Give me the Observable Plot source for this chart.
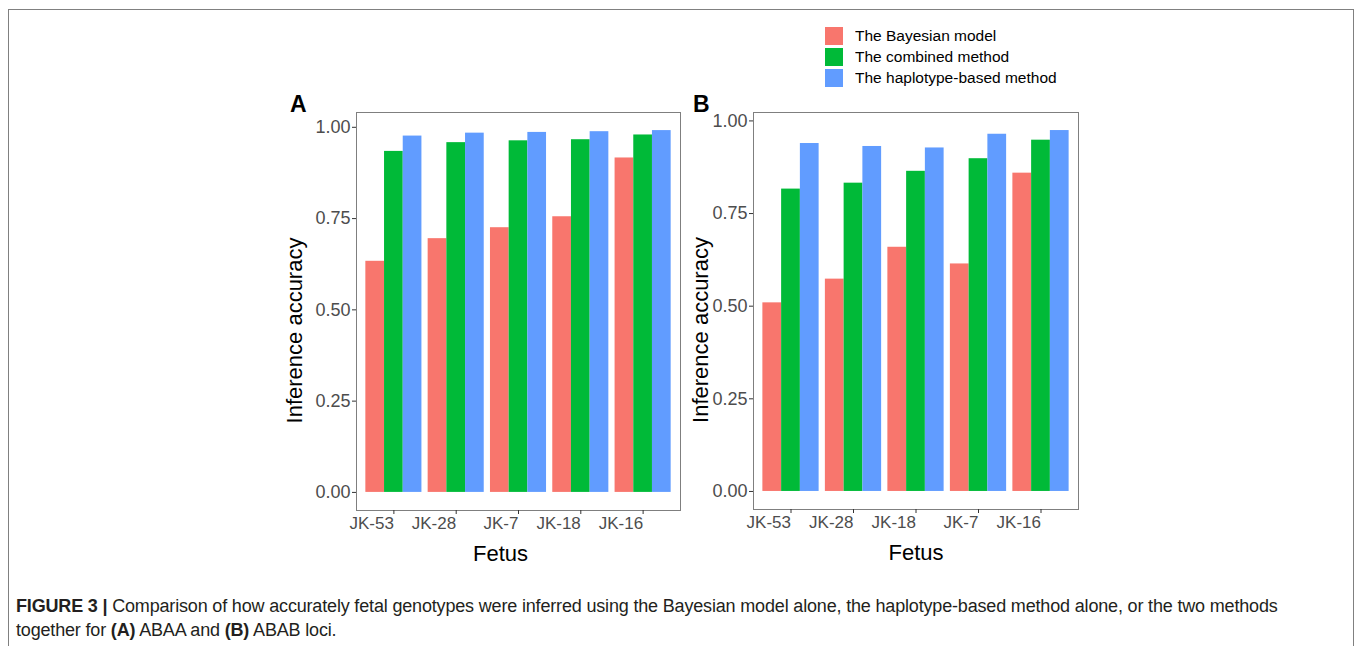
<!DOCTYPE html>
<html>
<head>
<meta charset="utf-8">
<script src="https://cdn.jsdelivr.net/npm/d3@7"></script>
<script src="https://cdn.jsdelivr.net/npm/@observablehq/plot@0.6"></script>
<style>
body{margin:0;background:#fff;}
#fig{position:relative;width:1356px;height:646px;overflow:hidden;font-family:"Liberation Sans",Arial,sans-serif;background:#fff;}
#border{position:absolute;left:8px;top:9px;width:1344px;height:700px;border:1px solid #808080;}
.panel{position:absolute;top:90px;}
#panelA{left:270px;}
#panelB{left:667px;}
.tag{position:absolute;font-weight:bold;font-size:23px;line-height:23px;color:#000;}
#legend{position:absolute;left:825px;top:27px;}
#legend svg{margin-right:12px !important;}
#legend > div > div{padding-bottom:3px !important;}
#caption{position:absolute;left:16px;top:594px;font-size:18px;letter-spacing:-0.17px;line-height:24px;color:#231f20;width:1336px;white-space:nowrap;}
</style>
</head>
<body>
<div id="fig">
  <div id="border"></div>
  <div id="panelA" class="panel"></div>
  <div id="panelB" class="panel"></div>
  <div class="tag" style="left:290px;top:93px;">A</div>
  <div class="tag" style="left:693px;top:93px;">B</div>
  <div id="legend"></div>
  <div id="caption"><b>FIGURE 3 |</b> Comparison of how accurately fetal genotypes were inferred using the Bayesian model alone, the haplotype-based method alone, or the two methods<br>together for <b>(A)</b> ABAA and <b>(B)</b> ABAB loci.</div>
</div>
<script>
// Panel A (ABAA loci)
const fetusA = ["JK-53", "JK-28", "JK-7", "JK-18", "JK-16"];
const bayesA = [0.633, 0.695, 0.725, 0.755, 0.916];
const combinedA = [0.934, 0.958, 0.963, 0.966, 0.979];
const haploA = [0.976, 0.984, 0.986, 0.988, 0.991];
// Panel B (ABAB loci)
const fetusB = ["JK-53", "JK-28", "JK-18", "JK-7", "JK-16"];
const bayesB = [0.509, 0.573, 0.659, 0.614, 0.859];
const combinedB = [0.816, 0.832, 0.864, 0.898, 0.948];
const haploB = [0.939, 0.931, 0.927, 0.964, 0.974];

const methods = ["The Bayesian model", "The combined method", "The haplotype-based method"];
const colors = ["#F8766D", "#00BA38", "#619CFF"];
const yTicks = [0, 0.25, 0.5, 0.75, 1];

// dodge positions like ggplot2's position_dodge(width = 0.9)
function rows(fetus, series) {
  const out = [];
  const w = 0.9 / series.length;
  fetus.forEach((f, i) => series.forEach((vals, m) => {
    const x1 = (i + 1) - 0.45 + m * w;
    out.push({fetus: f, method: methods[m], value: vals[i], x1, x2: x1 + w});
  }));
  return out;
}

function panel(fetus, series, o) {
  const data = rows(fetus, series);
  const ymax = d3.max(data, d => d.value);
  return Plot.plot({
    width: o.width, height: 480,
    marginLeft: 86, marginRight: 10, marginTop: 22, marginBottom: o.mb,
    style: {fontFamily: "'Liberation Sans', Arial, sans-serif", fontSize: "17px", color: "#4D4D4D", background: "transparent", overflow: "visible"},
    x: {domain: [0.4, fetus.length + 0.6]},
    y: {domain: [-0.05 * ymax, 1.05 * ymax]},
    color: {domain: methods, range: colors},
    marks: [
      Plot.rectY(data, {x1: "x1", x2: "x2", y1: 0, y2: "value", fill: "method"}),
      Plot.frame({stroke: "#7f7f7f"}),
      Plot.axisY({ticks: yTicks, tickFormat: d3.format(".2f"), tickSize: 4, tickPadding: 2, label: null, stroke: "#333", fontSize: 18}),
      Plot.axisX({ticks: d3.range(1, fetus.length + 1), tickFormat: i => fetus[i - 1], tickSize: 4, tickPadding: 2, textAnchor: "end", label: null, stroke: "#333", fontSize: 17}),
      Plot.text(["Inference accuracy"], {frameAnchor: "left", textAnchor: "middle", lineAnchor: "middle", rotate: -90, dx: o.ylx, dy: 19, fontSize: 22, fill: "#000"}),
      Plot.text(["Fetus"], {frameAnchor: "bottom", textAnchor: "middle", lineAnchor: "middle", dx: o.xlx, dy: 43, fontSize: 22, fill: "#000"})
    ]
  });
}

document.getElementById("panelA").append(panel(fetusA, [bayesA, combinedA, haploA], {width: 420, mb: 60, ylx: -62, xlx: -18}));
document.getElementById("panelB").append(panel(fetusB, [bayesB, combinedB, haploB], {width: 421, mb: 61, ylx: -53, xlx: 0}));

document.getElementById("legend").append(Plot.legend({
  color: {type: "ordinal", domain: methods, range: colors},
  legend: "swatches",
  columns: 1,
  swatchSize: 18,
  style: {fontFamily: "'Liberation Sans', Arial, sans-serif", fontSize: "15.5px", color: "#000"}
}));
</script>
</body>
</html>
